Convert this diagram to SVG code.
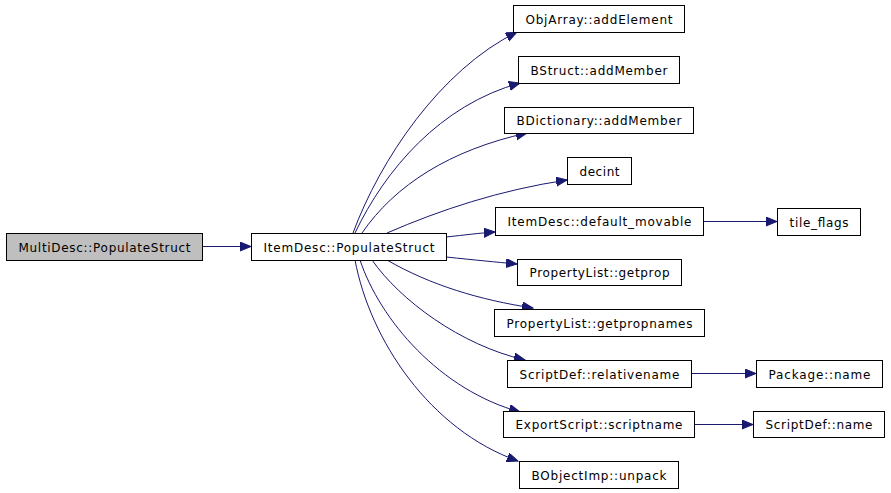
<svg xmlns="http://www.w3.org/2000/svg" width="891" height="493" viewBox="0 0 891 493">
<defs>
<marker id="ah" markerUnits="userSpaceOnUse" markerWidth="12" markerHeight="10" refX="11" refY="4.5" orient="auto">
<path d="M0,0 L11,4.5 L0,9 Z" fill="#191970" stroke="#191970" stroke-width="1"/>
</marker>
</defs>
<style>
.n rect{fill:#fff;stroke:#000;stroke-width:1}
.n.g rect{fill:#bfbfbf}
.n text{font-family:"DejaVu Sans",sans-serif;font-size:12px;fill:#000;text-anchor:middle}
#edges path{fill:none;stroke:#191970;stroke-width:1;marker-end:url(#ah)}
</style>
<rect width="891" height="493" fill="#fff"/>
<g id="edges">
<path d="M202,246.5 L251,246.5"/>
<path d="M353,233 C380,160 440,70 517,32"/>
<path d="M355,233 C385,170 440,105 520,83"/>
<path d="M362,233 C395,185 450,150 527,133"/>
<path d="M387,233 C440,210 500,190 567,180"/>
<path d="M446,237 C465,235 480,233 495,232"/>
<path d="M446,257 C475,260 495,262 517,264"/>
<path d="M387,260 C430,285 480,300 533,308"/>
<path d="M372,260 C400,300 460,345 525,360"/>
<path d="M360,260 C380,320 440,390 520,412"/>
<path d="M355,260 C370,340 430,430 518,461"/>
<path d="M703,221.5 L777,221.5"/>
<path d="M691,373.5 L756,373.5"/>
<path d="M694,424.5 L753,424.5"/>
</g>
<g id="n0" class="n g"><rect x="6.5" y="233.5" width="196" height="27"/><text x="104.5" y="251.5" textLength="172" lengthAdjust="spacing">MultiDesc::PopulateStruct</text></g>
<g id="n1" class="n"><rect x="251.5" y="233.5" width="195" height="27"/><text x="349" y="251.5" textLength="171" lengthAdjust="spacing">ItemDesc::PopulateStruct</text></g>
<g id="n2" class="n"><rect x="513.5" y="5.5" width="171" height="27"/><text x="599" y="23.5" textLength="147" lengthAdjust="spacing">ObjArray::addElement</text></g>
<g id="n3" class="n"><rect x="518.5" y="56.5" width="161" height="27"/><text x="599" y="74.5" textLength="137" lengthAdjust="spacing">BStruct::addMember</text></g>
<g id="n4" class="n"><rect x="504.5" y="107.5" width="189" height="26"/><text x="599" y="125" textLength="165" lengthAdjust="spacing">BDictionary::addMember</text></g>
<g id="n5" class="n"><rect x="567.5" y="157.5" width="64" height="27"/><text x="599.5" y="175.5" textLength="40" lengthAdjust="spacing">decint</text></g>
<g id="n6" class="n"><rect x="495.5" y="207.5" width="208" height="28"/><text x="599.5" y="226" textLength="184" lengthAdjust="spacing">ItemDesc::default_movable</text></g>
<g id="n7" class="n"><rect x="517.5" y="259.5" width="164" height="26"/><text x="599.5" y="277" textLength="140" lengthAdjust="spacing">PropertyList::getprop</text></g>
<g id="n8" class="n"><rect x="494.5" y="309.5" width="210" height="27"/><text x="599.5" y="327.5" textLength="186" lengthAdjust="spacing">PropertyList::getpropnames</text></g>
<g id="n9" class="n"><rect x="507.5" y="360.5" width="184" height="27"/><text x="599.5" y="378.5" textLength="160" lengthAdjust="spacing">ScriptDef::relativename</text></g>
<g id="n10" class="n"><rect x="503.5" y="411.5" width="191" height="26"/><text x="599" y="429" textLength="167" lengthAdjust="spacing">ExportScript::scriptname</text></g>
<g id="n11" class="n"><rect x="519.5" y="461.5" width="159" height="27"/><text x="599" y="479.5" textLength="135" lengthAdjust="spacing">BObjectImp::unpack</text></g>
<g id="n12" class="n"><rect x="777.5" y="208.5" width="83" height="27"/><text x="819" y="226.5" textLength="59" lengthAdjust="spacing">tile_flags</text></g>
<g id="n13" class="n"><rect x="756.5" y="360.5" width="126" height="27"/><text x="819.5" y="378.5" textLength="102" lengthAdjust="spacing">Package::name</text></g>
<g id="n14" class="n"><rect x="753.5" y="411.5" width="131" height="26"/><text x="819" y="429" textLength="107" lengthAdjust="spacing">ScriptDef::name</text></g>
</svg>
